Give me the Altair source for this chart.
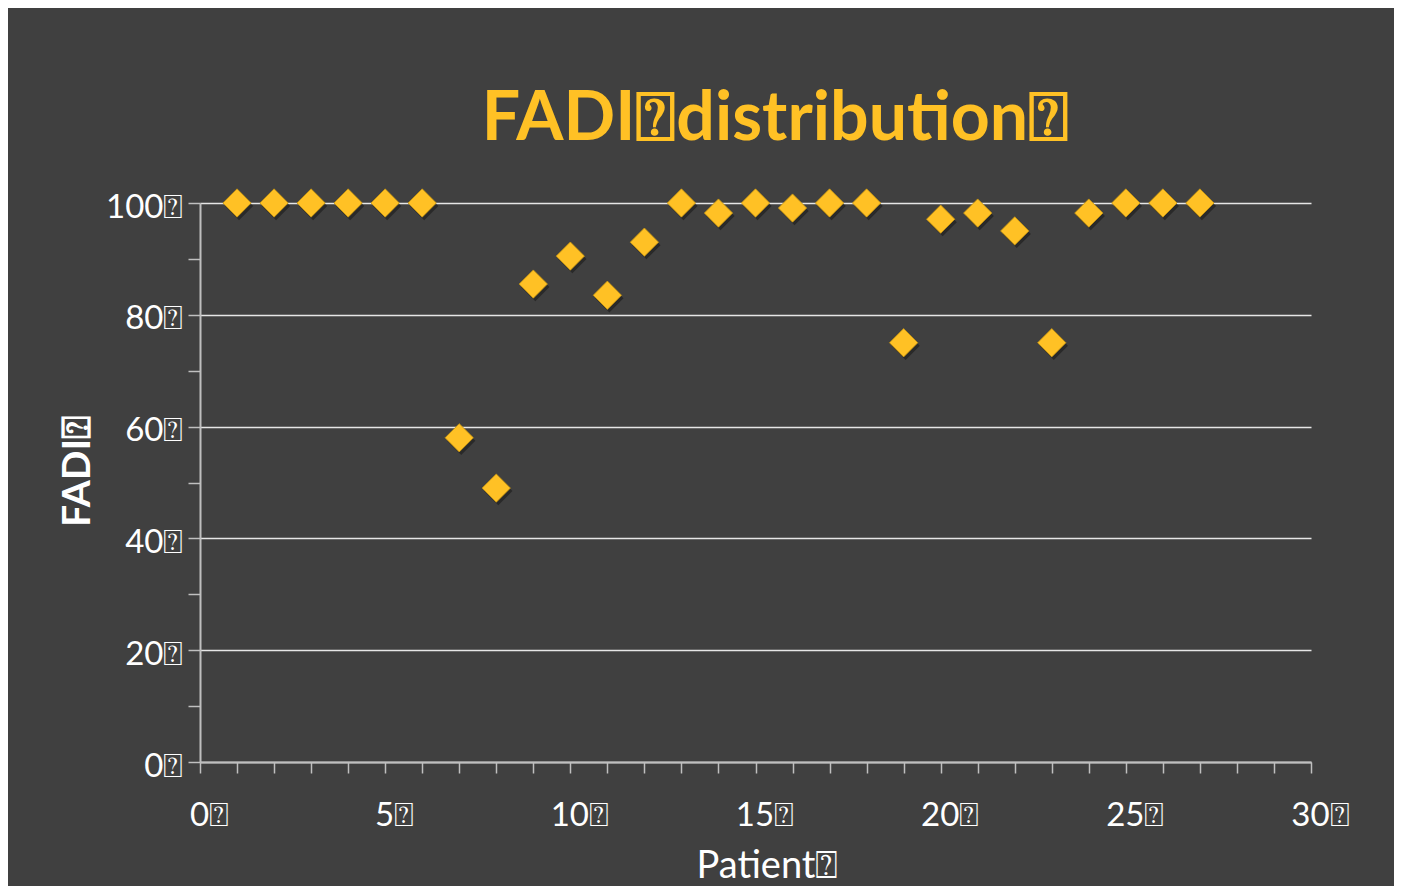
import altair as alt
import pandas as pd

patients = list(range(1, 28))
fadi = [100, 100, 100, 100, 100, 100, 58, 49, 85.5, 90.5, 83.5, 93, 100, 98.2,
        100, 99.1, 100, 100, 75, 97.1, 98.2, 95, 75, 98.2, 100, 100, 100]
x_ticks = list(range(0, 31))
y_ticks = list(range(0, 101, 10))

BOX = "\u2370"
df = pd.DataFrame({"Patient": patients, "FADI": fadi})

GOLD = "#FFC125"
BG = "#404040"
AX = "#BFBFBF"

x_enc = alt.X(
    "Patient:Q",
    scale=alt.Scale(domain=[0, 30], nice=False, zero=False),
    axis=alt.Axis(
        values=x_ticks,
        title="Patient" + BOX,
        labelExpr=f"datum.value % 5 == 0 ? datum.value + '{BOX}' : ''",
        grid=False,
        tickSize=11,
        tickWidth=1.5,
        tickColor=AX,
        domainColor=AX,
        domainWidth=2,
        labelPadding=26,
        labelOffset=9,
        labelFlush=False,
        labelFont="Lato",
        labelFontSize=33,
        labelFontWeight="normal",
        labelColor="white",
        titleFont="Lato",
        titleFontSize=38,
        titleFontWeight="normal",
        titleColor="white",
        titlePadding=15,
        titleX=567,
    ),
)
y_enc = alt.Y(
    "FADI:Q",
    scale=alt.Scale(domain=[0, 100], nice=False),
    axis=alt.Axis(
        values=y_ticks,
        title="FADI" + BOX,
        labelExpr=f"datum.value % 20 == 0 ? datum.value + '{BOX}' : ''",
        grid=True,
        gridColor="#E6E6E6",
        gridWidth=1.5,
        gridOpacity={"condition": {"test": "datum.value % 20 != 0", "value": 0}, "value": 1},
        tickSize=12,
        tickWidth=1.5,
        tickColor=AX,
        domainColor=AX,
        domainWidth=2,
        labelPadding=5,
        labelOffset=4,
        labelFont="Lato",
        labelFontSize=33,
        labelFontWeight="normal",
        labelColor="white",
        titleFont="Lato",
        titleFontSize=39,
        titleFontWeight="bold",
        titleColor="white",
        titlePadding=8,
        titleY=268,
    ),
)

shadow = alt.Chart(df).mark_point(
    shape="diamond", filled=True, size=800, color="#151515", opacity=0.55,
    xOffset=2, yOffset=3,
).encode(x=x_enc, y=y_enc)

points = alt.Chart(df).mark_point(
    shape="diamond", filled=True, size=800, color=GOLD, opacity=1,
    stroke="#C8960F", strokeWidth=0.8,
).encode(x=x_enc, y=y_enc)

chart = alt.layer(shadow, points).properties(
    width=1111,
    height=559,
    background=BG,
    autosize=alt.AutoSizeParams(type="none"),
    padding={"left": 192, "top": 195, "right": 83, "bottom": 124},
    title=alt.TitleParams(
        text="FADI" + BOX + "distribution" + BOX,
        font="Lato",
        fontSize=68,
        fontWeight="bold",
        color=GOLD,
        anchor="middle",
        dx=20,
        dy=45,
        offset=24,
        baseline="alphabetic",
    ),
).configure_view(stroke=None)

chart.save("out.html", embed_options={"renderer": "svg", "actions": False})
